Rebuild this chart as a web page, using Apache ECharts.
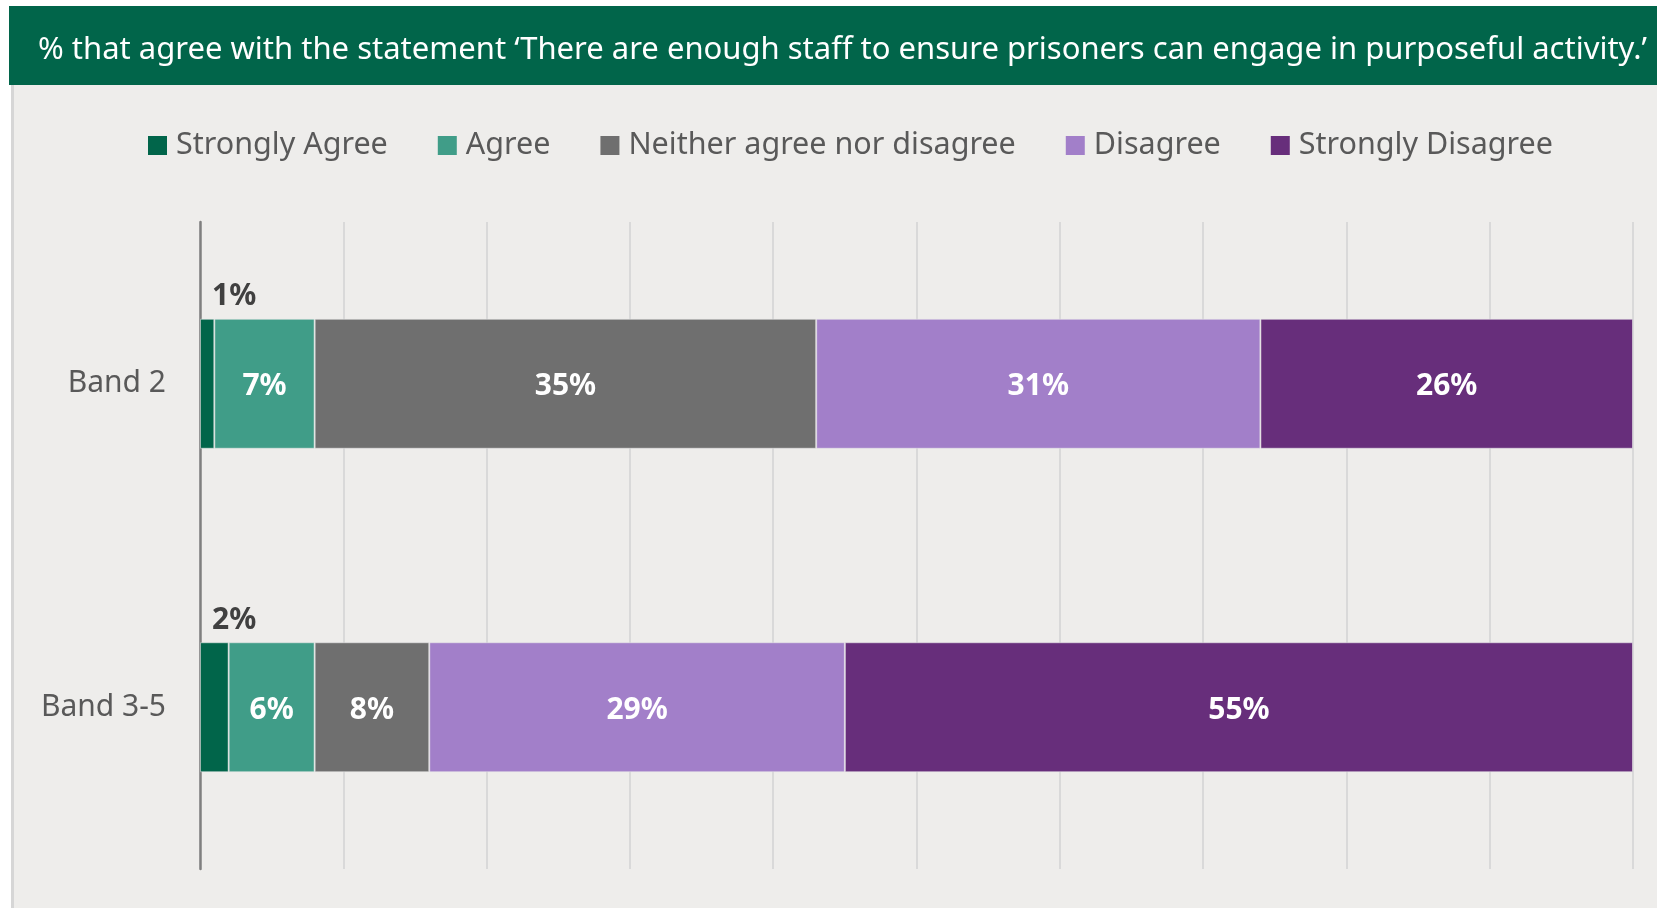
<!DOCTYPE html>
<html>
<head>
<meta charset="utf-8">
<script src="https://cdn.jsdelivr.net/npm/echarts@6/dist/echarts.min.js"></script>
<style>
  html, body { margin: 0; padding: 0; background: #ffffff; }
  #chart { width: 1657px; height: 908px; }
</style>
</head>
<body>
<div id="chart"></div>
<script>
// Survey responses by staff band (percent of respondents)
const titleText = '% that agree with the statement \u2018There are enough staff to ensure prisoners can engage in purposeful activity.\u2019';
const categories = ['Band 2', 'Band 3-5'];
const seriesNames = ['Strongly Agree', 'Agree', 'Neither agree nor disagree', 'Disagree', 'Strongly Disagree'];
const stronglyAgree = [1, 2];
const agree = [7, 6];
const neither = [35, 8];
const disagree = [31, 29];
const stronglyDisagree = [26, 55];
const xTicks = [0, 10, 20, 30, 40, 50, 60, 70, 80, 90, 100];

const colors = ['#01654A', '#409D88', '#6F6F6F', '#A27FC9', '#672E7B'];
const values = [stronglyAgree, agree, neither, disagree, stronglyDisagree];
const FONT = '"Noto Sans", "Open Sans", sans-serif';

const chart = echarts.init(document.getElementById('chart'), null, { renderer: 'canvas' });

const series = seriesNames.map((name, i) => {
  const base = {
    name: name,
    type: 'bar',
    stack: 'total',
    barWidth: 130,
    data: values[i],
    itemStyle: { color: colors[i], borderColor: 'rgba(235,235,235,0.55)', borderWidth: 1 },
    emphasis: { disabled: true },
    label: {
      show: true,
      position: 'inside',
      offset: [0, 3],
      color: '#ffffff',
      fontFamily: FONT,
      fontWeight: 'bold',
      fontSize: 30,
      formatter: p => p.value + '%'
    }
  };
  if (i === 0) {
    // thin first segment: value sits above the bar
    base.label = Object.assign({}, base.label, {
      position: [12, -7],
      offset: [0, 0],
      align: 'left',
      verticalAlign: 'bottom',
      color: '#404040'
    });
  }
  return base;
});

const option = {
  animation: false,
  backgroundColor: '#ffffff',
  graphic: [
    { type: 'rect', z: -10, shape: { x: 11, y: 85, width: 1646, height: 823 }, style: { fill: '#EEEDEB' } },
    { type: 'rect', z: -9, shape: { x: 11, y: 85, width: 3, height: 823 }, style: { fill: '#D6D6D6' } },
    { type: 'rect', z: -9, shape: { x: 9, y: 6, width: 1648, height: 79 }, style: { fill: '#01654A' } }
  ],
  title: {
    text: titleText,
    left: 33,
    top: 30,
    textStyle: { color: '#ffffff', fontFamily: FONT, fontWeight: 'normal', fontSize: 31 }
  },
  legend: {
    data: seriesNames,
    left: 143,
    top: 125,
    itemWidth: 19,
    itemHeight: 19,
    itemGap: 50,
    icon: 'rect',
    itemStyle: { borderWidth: 0 },
    textStyle: { color: '#595959', fontFamily: FONT, fontSize: 30.5, padding: [0, 0, 0, 4] }
  },
  grid: { left: 200, right: 24, top: 222, bottom: 39, containLabel: false },
  xAxis: {
    type: 'value',
    min: xTicks[0],
    max: xTicks[xTicks.length - 1],
    interval: xTicks[1] - xTicks[0],
    axisLabel: { show: false },
    axisLine: { show: false },
    axisTick: { show: false },
    splitLine: { show: true, lineStyle: { color: '#D9D9D9', width: 2 } }
  },
  yAxis: {
    type: 'category',
    data: categories,
    inverse: true,
    axisTick: { show: false },
    axisLine: { show: true, lineStyle: { color: '#7F7F7F', width: 2.5 } },
    axisLabel: { color: '#595959', fontFamily: FONT, fontSize: 30, margin: 34 }
  },
  series: series
};

chart.setOption(option);
</script>
</body>
</html>
